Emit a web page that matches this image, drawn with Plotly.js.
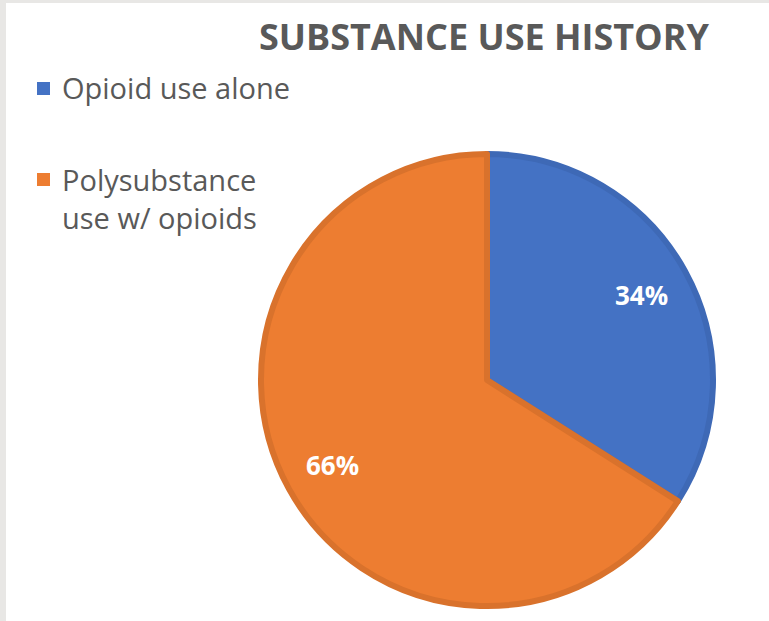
<!DOCTYPE html>
<html>
<head>
<meta charset="utf-8">
<script src="https://cdn.plot.ly/plotly-3.0.1.min.js"></script>
<style>
html,body{margin:0;padding:0;background:#e8e7e5;width:769px;height:621px;overflow:hidden;}
#chart{position:absolute;left:6px;top:3px;width:763px;height:618px;background:#fff;}
</style>
</head>
<body>
<div id="chart"></div>
<script>
const categories = ["Opioid use alone", "Polysubstance<br>use w/ opioids"];
const shares = [34, 66];
const sliceColors = ["#4472C4", "#ED7D31"];
const edgeColors = ["#3E69B6", "#D9722C"];
const titleText = "SUBSTANCE USE HISTORY";

const W = 763, H = 618;
const cx = 481, cy = 377, R = 226;

const trace = {
  type: "pie",
  labels: categories,
  values: shares,
  sort: false,
  direction: "clockwise",
  rotation: 0,
  marker: {colors: sliceColors, line: {color: edgeColors, width: 6}},
  textinfo: "none",
  hoverinfo: "none",
  showlegend: false,
  domain: {x: [(cx - R) / W, (cx + R) / W], y: [(H - cy - R) / H, (H - cy + R) / H]}
};

// percent labels placed at each slice's mid-angle (computed from the data)
const total = shares.reduce((a, b) => a + b, 0);
const annotations = [];
let cum = 0;
const labelRadius = 0.78 * R;
shares.forEach((v) => {
  const theta = 2 * Math.PI * (cum + v / 2) / total;
  cum += v;
  const px = cx + labelRadius * Math.sin(theta);
  const py = cy - labelRadius * Math.cos(theta);
  annotations.push({
    xref: "paper", yref: "paper", x: px / W, y: 1 - py / H,
    xanchor: "center", yanchor: "middle", showarrow: false,
    text: Math.round(100 * v / total) + "%",
    font: {family: "Open Sans", size: 26, color: "#ffffff", weight: "bold"}
  });
});

// legend entries (text from categories, swatch colours from sliceColors)
const legendRows = [85, 195];
const swatchTops = [79, 170];
const shapes = [];
categories.forEach((c, i) => {
  annotations.push({
    xref: "paper", yref: "paper", x: 54 / W, y: 1 - legendRows[i] / H,
    xanchor: "left", yanchor: "middle", align: "left", showarrow: false,
    text: c,
    font: {family: "Open Sans", size: 29, color: "#595959"}
  });
  shapes.push({
    type: "rect", xref: "paper", yref: "paper",
    x0: 31 / W, x1: 44 / W, y0: 1 - swatchTops[i] / H, y1: 1 - (swatchTops[i] + 13) / H,
    fillcolor: sliceColors[i], line: {width: 0}
  });
});

const layout = {
  width: W, height: H,
  margin: {l: 0, r: 0, t: 0, b: 0},
  paper_bgcolor: "#ffffff",
  showlegend: false,
  annotations: annotations,
  shapes: shapes,
  title: {
    text: titleText,
    font: {family: "Open Sans", size: 36, color: "#595959", weight: "bold"},
    x: 478 / W, xanchor: "center", y: 1 - 34 / H, yanchor: "middle"
  }
};

Plotly.newPlot("chart", [trace], layout, {displayModeBar: false, staticPlot: true});
</script>
</body>
</html>
